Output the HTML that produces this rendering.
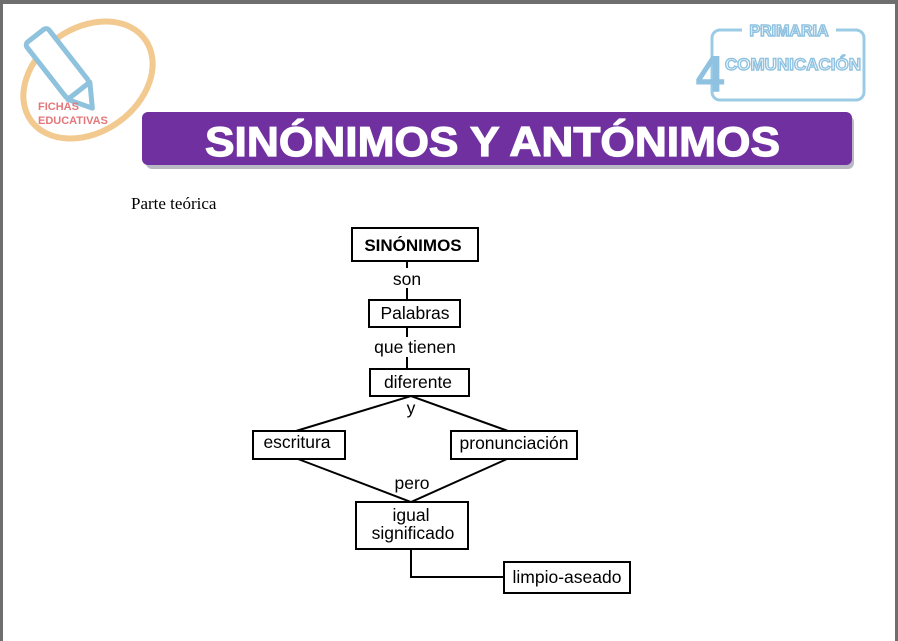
<!DOCTYPE html>
<html><head><meta charset="utf-8"><style>
html,body{margin:0;padding:0;background:#fff;}
body{width:898px;height:641px;overflow:hidden;position:relative;}
svg{position:absolute;left:0;top:0;}
</style></head><body>
<svg width="898" height="641" viewBox="0 0 898 641" xmlns="http://www.w3.org/2000/svg">
<rect x="0" y="0" width="898" height="641" fill="#fff"/>
<rect x="0" y="0" width="898" height="4" fill="#6e6e6e"/>
<rect x="0" y="0" width="3" height="641" fill="#6e6e6e"/>
<rect x="895" y="0" width="3" height="641" fill="#6e6e6e"/>
<!-- left logo -->
<ellipse cx="88" cy="80" rx="70" ry="52" transform="rotate(-35 88 80)" fill="none" stroke="#f2c98f" stroke-width="6"/>
<g transform="rotate(-38 60 70)">
<rect x="48" y="28" width="28" height="70" rx="4" fill="#fff" stroke="#8fc2dc" stroke-width="5"/>
<polygon points="48,98 76,98 62,120" fill="#fff" stroke="#8fc2dc" stroke-width="5" stroke-linejoin="round"/>
</g>
<text x="38" y="110" font-family="Liberation Sans, sans-serif" font-size="11" font-weight="bold" fill="#e3777a">FICHAS</text>
<text x="38" y="124" font-family="Liberation Sans, sans-serif" font-size="11" font-weight="bold" fill="#e3777a">EDUCATIVAS</text>
<!-- right logo -->
<rect x="712" y="30" width="152" height="70" rx="8" fill="none" stroke="#9ccbe6" stroke-width="3"/>
<rect x="742" y="20" width="94" height="20" fill="#fff"/>
<text x="789" y="36" text-anchor="middle" font-family="Liberation Sans, sans-serif" font-size="16" font-weight="bold" fill="#fff" stroke="#8fc2e0" stroke-width="1.5">PRIMARIA</text>
<text x="710" y="92" text-anchor="middle" font-family="Liberation Sans, sans-serif" font-size="52" font-weight="bold" fill="#8fc2e0">4</text>
<text x="793" y="70" text-anchor="middle" font-family="Liberation Sans, sans-serif" font-size="17" font-weight="bold" fill="#fff" stroke="#8fc2e0" stroke-width="1.4">COMUNICACIÓN</text>
<!-- banner -->
<rect x="146" y="116" width="708" height="53" rx="6" fill="#b9b9c4"/>
<rect x="142" y="112" width="710" height="53" rx="6" fill="#7030a0"/>
<text x="205" y="156" font-family="Liberation Sans, sans-serif" font-size="42" font-weight="bold" fill="#fff" stroke="#fff" stroke-width="1.2" textLength="575" lengthAdjust="spacingAndGlyphs">SINÓNIMOS Y ANTÓNIMOS</text>
<text x="131" y="209" font-family="Liberation Serif, serif" font-size="17" fill="#000">Parte teórica</text>
<!-- diagram -->
<g stroke="#000" stroke-width="2" fill="none">
<line x1="407" y1="261" x2="407" y2="300"/>
<line x1="407" y1="327" x2="407" y2="369"/>
<polyline points="296,431 411,396 508,431"/>
<polyline points="298,459 411,502 507,459"/>
<polyline points="411,549 411,577 504,577"/>
</g>
<g fill="#fff" stroke="#000" stroke-width="2">
<rect x="352" y="228" width="126" height="33"/>
<rect x="369" y="300" width="91" height="27"/>
<rect x="370" y="369" width="99" height="27"/>
<rect x="253" y="431" width="92" height="28"/>
<rect x="451" y="431" width="126" height="28"/>
<rect x="356" y="502" width="112" height="47"/>
<rect x="504" y="562" width="126" height="31"/>
</g>
<g font-family="Liberation Sans, sans-serif" font-size="17.5" fill="#000" text-anchor="middle">
<rect x="388" y="268" width="38" height="20" fill="#fff"/>
<rect x="368" y="337" width="96" height="20" fill="#fff"/>
<text x="413" y="251" font-weight="bold" font-size="17">SINÓNIMOS</text>
<text x="407" y="285">son</text>
<text x="415" y="319">Palabras</text>
<text x="415" y="353">que tienen</text>
<text x="418" y="388">diferente</text>
<text x="411" y="414">y</text>
<text x="297" y="448">escritura</text>
<text x="514" y="449">pronunciación</text>
<text x="412" y="489">pero</text>
<text x="411" y="521">igual</text>
<text x="413" y="539">significado</text>
<text x="567" y="583">limpio-aseado</text>
</g>
</svg>
</body></html>
